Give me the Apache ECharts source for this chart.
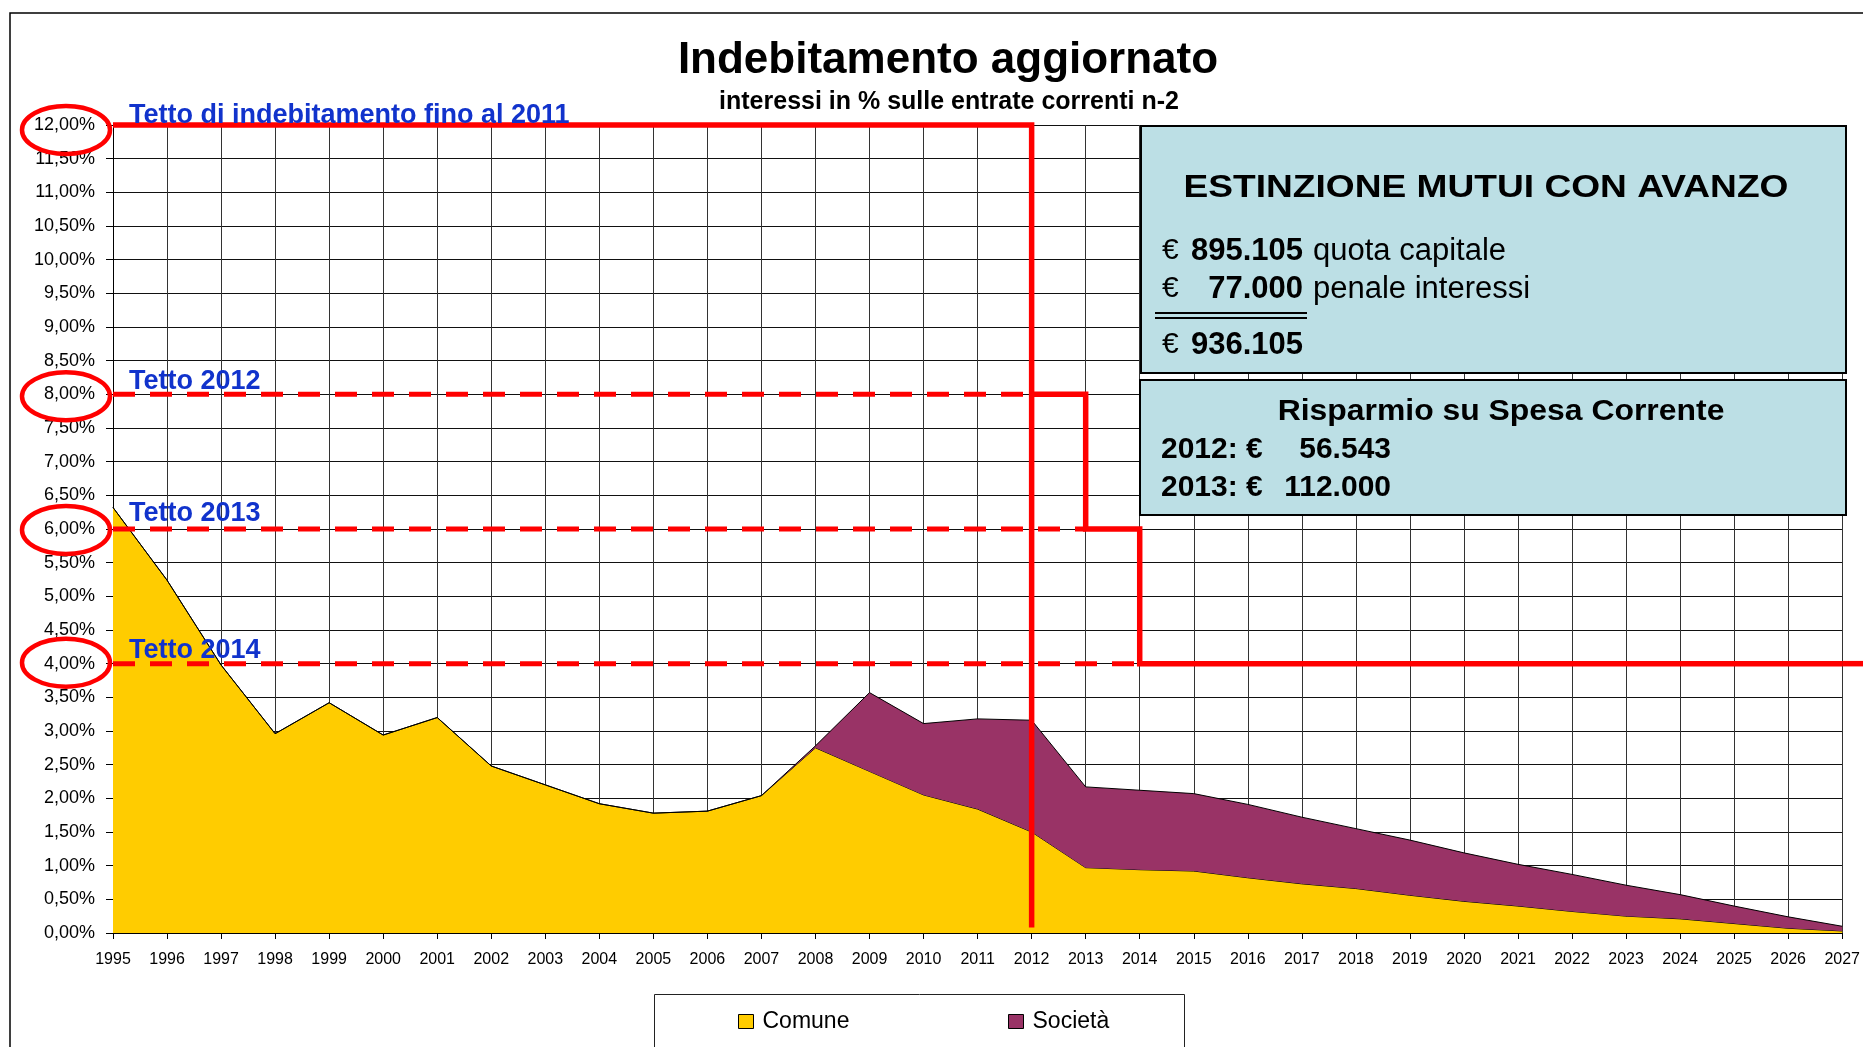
<!DOCTYPE html>
<html>
<head>
<meta charset="utf-8">
<script src="https://cdn.jsdelivr.net/npm/echarts@6/dist/echarts.min.js"></script>
<style>
  html, body { margin: 0; padding: 0; background: #fff; }
  #chart { width: 1863px; height: 1047px; }
</style>
</head>
<body>
<div id="chart"></div>
<script>
var FONT = '"Liberation Sans", Arial, sans-serif';

// anni sull'asse x
var anni = ['1995', '1996', '1997', '1998', '1999', '2000', '2001', '2002', '2003', '2004', '2005',
  '2006', '2007', '2008', '2009', '2010', '2011', '2012', '2013', '2014', '2015', '2016',
  '2017', '2018', '2019', '2020', '2021', '2022', '2023', '2024', '2025', '2026', '2027'];

// interessi in %
var comune = [6.32, 5.24, 3.98, 2.96, 3.42, 2.94, 3.20, 2.48, 2.20, 1.92, 1.78,
  1.81, 2.04, 2.75, 2.40, 2.05, 1.84, 1.50, 0.97, 0.94, 0.92, 0.82,
  0.73, 0.66, 0.56, 0.47, 0.40, 0.32, 0.25, 0.21, 0.14, 0.07, 0.03];
var societa = [0, 0, 0, 0, 0, 0, 0, 0, 0, 0, 0,
  0, 0, 0.03, 1.17, 1.06, 1.34, 1.66, 1.20, 1.18, 1.15, 1.09,
  0.99, 0.89, 0.82, 0.72, 0.62, 0.55, 0.46, 0.36, 0.26, 0.17, 0.07];

// tetti di indebitamento
var tettiValori = [12, 8, 6, 4];
var tettiEtichette = ['Tetto di indebitamento fino al 2011', 'Tetto 2012', 'Tetto 2013', 'Tetto 2014'];
var tettoFino2011 = [['1995', 12], ['2012', 12], ['2012', 0.08]];
var tettoScalino = [['2012', 8], ['2013', 8], ['2013', 6], ['2014', 6], ['2014', 4], ['2027', 4]];
var tratteggio8 = [['1995', 8], ['2012', 8]];
var tratteggio6 = [['1995', 6], ['2013', 6]];
var tratteggio4 = [['1995', 4], ['2014', 4]];

var chart = echarts.init(document.getElementById('chart'));

function redLine(data, dashed) {
  return {
    type: 'line',
    data: data,
    symbol: 'none',
    clip: false,
    silent: true,
    z: dashed ? 5 : 6,
    lineStyle: { color: '#ff0000', width: dashed ? 5 : 5.5, type: dashed ? [22, 15] : 'solid', cap: 'butt', join: 'miter' }
  };
}

var legendBase = {
  top: 1005,
  itemWidth: 15,
  itemHeight: 14,
  icon: 'rect',
  itemStyle: { borderColor: '#000', borderWidth: 1 },
  textStyle: { fontSize: 23, color: '#000', fontFamily: FONT, padding: [0, 0, 0, 4] }
};

var option = {
  animation: false,
  backgroundColor: '#fff',
  textStyle: { fontFamily: FONT },
  title: [
    {
      text: 'Indebitamento aggiornato',
      left: 948, top: 39, textAlign: 'center', padding: 0,
      textStyle: { fontSize: 44, fontWeight: 'bold', color: '#000', lineHeight: 44, fontFamily: FONT }
    },
    {
      text: 'interessi in % sulle entrate correnti n-2',
      left: 949, top: 90, textAlign: 'center', padding: 0,
      textStyle: { fontSize: 25, fontWeight: 'bold', color: '#000', lineHeight: 25, fontFamily: FONT }
    }
  ],
  legend: [
    Object.assign({ data: ['Comune'], left: 733 }, legendBase),
    Object.assign({ data: ['Società'], left: 1003 }, legendBase)
  ],
  grid: { left: 113, right: 18, top: 125, bottom: 114 },
  xAxis: {
    type: 'category',
    data: anni,
    boundaryGap: false,
    axisLine: { lineStyle: { color: '#000', width: 1 } },
    axisTick: { show: true, interval: 0, length: 6, lineStyle: { color: '#000' } },
    axisLabel: { interval: 0, fontSize: 16, color: '#000', margin: 19 },
    splitLine: { show: true, interval: 0, lineStyle: { color: '#333', width: 1 } }
  },
  yAxis: {
    type: 'value',
    min: 0,
    max: 12,
    interval: 0.5,
    axisLine: { show: true, lineStyle: { color: '#000', width: 1 } },
    axisTick: { show: true, length: 7, lineStyle: { color: '#000' } },
    axisLabel: {
      fontSize: 18, color: '#000', margin: 18,
      formatter: function (v) { return v.toFixed(2).replace('.', ',') + '%'; }
    },
    splitLine: { show: true, lineStyle: { color: '#111', width: 1 } }
  },
  series: [
    {
      name: 'Comune',
      type: 'line',
      stack: 'tot',
      data: comune,
      symbol: 'none',
      lineStyle: { color: '#000', width: 1 },
      itemStyle: { color: '#ffcc00' },
      areaStyle: { color: '#ffcc00', opacity: 1 },
      z: 2
    },
    {
      name: 'Società',
      type: 'line',
      stack: 'tot',
      data: societa,
      symbol: 'none',
      lineStyle: { color: '#000', width: 1 },
      itemStyle: { color: '#993366' },
      areaStyle: { color: '#993366', opacity: 1 },
      z: 3
    },
    redLine(tratteggio8, true),
    redLine(tratteggio6, true),
    redLine(tratteggio4, true),
    redLine(tettoFino2011, false),
    redLine(tettoScalino, false)
  ]
};

chart.setOption(option);

// annotazioni: riquadri, cerchi ed etichette dei tetti
function txt(x, y, text, size, weight, align, extra) {
  var el = {
    type: 'text', x: x, y: y, z: 110,
    style: {
      text: text, fill: '#000',
      font: (weight || 'normal') + ' ' + size + 'px ' + FONT,
      align: align || 'left', textAlign: align || 'left',
      verticalAlign: 'middle', textVerticalAlign: 'middle'
    }
  };
  return Object.assign(el, extra || {});
}

var els = [];
// cornice esterna
els.push({ type: 'rect', z: 1, shape: { x: 10, y: 13, width: 1900, height: 1100 },
  style: { fill: 'none', stroke: '#000', lineWidth: 1.5 } });
// riquadro legenda
els.push({ type: 'rect', z: 3, shape: { x: 654.5, y: 994.5, width: 530, height: 80 },
  style: { fill: '#fff', stroke: '#222', lineWidth: 1 } });

// etichette blu e cerchi rossi
var labelOffsets = [9, 13, 15, 13];
var ringOffsets = [5, 2, 1, -1];
tettiValori.forEach(function (v, i) {
  var py = chart.convertToPixel({ yAxisIndex: 0 }, v);
  els.push({ type: 'ellipse', z: 100, shape: { cx: 66, cy: py + ringOffsets[i], rx: 44, ry: 24 },
    style: { fill: 'none', stroke: '#ff0000', lineWidth: 4.5 } });
  els.push({ type: 'text', x: 129, y: py - labelOffsets[i], z: 100,
    style: { text: tettiEtichette[i], fill: '#1133cc', font: 'bold 27px ' + FONT,
      align: 'left', textAlign: 'left', verticalAlign: 'middle', textVerticalAlign: 'middle' } });
});

// prolungamento del tetto 4% oltre il 2027
var fine = chart.convertToPixel({ gridIndex: 0 }, ['2027', 4]);
els.push({ type: 'line', z: 50, shape: { x1: fine[0], y1: fine[1], x2: 1863, y2: fine[1] },
  style: { stroke: '#ff0000', lineWidth: 5.5 } });

// riquadro estinzione mutui
els.push({ type: 'rect', z: 100, shape: { x: 1141, y: 126, width: 705, height: 247 },
  style: { fill: '#bcdfe5', stroke: '#000', lineWidth: 2 } });
els.push(txt(1486, 188, 'ESTINZIONE MUTUI CON AVANZO', 32, 'bold', 'center', { scaleX: 1.16 }));
els.push(txt(1162, 251, '€', 30));
els.push(txt(1303, 251, '895.105', 31, 'bold', 'right'));
els.push(txt(1313, 251, 'quota capitale', 31));
els.push(txt(1162, 289, '€', 30));
els.push(txt(1303, 289, '77.000', 31, 'bold', 'right'));
els.push(txt(1313, 289, 'penale interessi', 31));
els.push({ type: 'line', z: 110, shape: { x1: 1155, y1: 313, x2: 1307, y2: 313 }, style: { stroke: '#000', lineWidth: 2 } });
els.push({ type: 'line', z: 110, shape: { x1: 1155, y1: 318, x2: 1307, y2: 318 }, style: { stroke: '#000', lineWidth: 2 } });
els.push(txt(1162, 345, '€', 30));
els.push(txt(1303, 345, '936.105', 31, 'bold', 'right'));

// riquadro risparmio
els.push({ type: 'rect', z: 100, shape: { x: 1140, y: 380, width: 706, height: 135 },
  style: { fill: '#bcdfe5', stroke: '#000', lineWidth: 2 } });
els.push(txt(1501, 412, 'Risparmio su Spesa Corrente', 29, 'bold', 'center', { scaleX: 1.1 }));
els.push(txt(1161, 450, '2012: €', 30, 'bold'));
els.push(txt(1391, 450, '56.543', 30, 'bold', 'right'));
els.push(txt(1161, 488, '2013: €', 30, 'bold'));
els.push(txt(1391, 488, '112.000', 30, 'bold', 'right'));

chart.setOption({ graphic: { elements: els } });
</script>
</body>
</html>
